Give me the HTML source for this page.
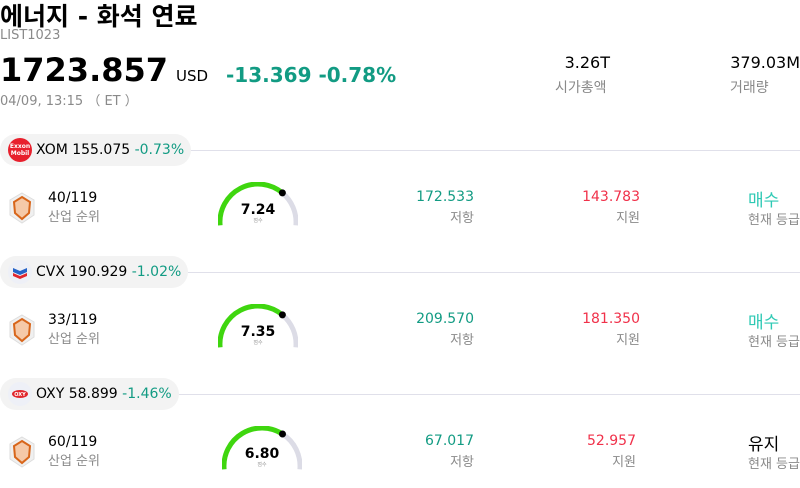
<!DOCTYPE html>
<html><head><meta charset="utf-8"><style>
*{margin:0;padding:0;box-sizing:border-box}
body{width:800px;height:488px;background:#fff;font-family:"DejaVu Sans","Liberation Sans","Noto Sans CJK KR",sans-serif;position:relative;overflow:hidden;color:#000}
.a{position:absolute;white-space:nowrap}
.g{color:#8a8a8a}
.r{text-align:right}
.pill{position:absolute;left:0;height:32px;border-radius:16px;background:#f3f3f3;font-size:14px;line-height:32px;padding-left:36px;padding-right:7px;white-space:nowrap}
.ln{position:absolute;height:1px;background:#e0e0ea;right:0}
.teal{color:#129b83}
.red{color:#f0314a}
</style></head><body>
<div class="a" style="left:0;top:-3px;font-size:25px;font-weight:bold">에너지 - 화석 연료</div>
<div class="a g" style="left:0;top:28px;font-size:13px">LIST1023</div>
<div class="a" style="left:0;top:51px;font-size:32px;font-weight:bold">1723.857</div>
<div class="a" style="left:176px;top:67px;font-size:15px">USD</div>
<div class="a teal" style="left:226px;top:63px;font-size:20px;font-weight:bold">-13.369 -0.78%</div>
<div class="a g" style="left:0;top:90px;font-size:13px">04/09, 13:15 （ ET ）</div>
<div class="a r" style="right:190px;top:53px;font-size:16px">3.26T</div>
<div class="a g" style="left:555px;top:77px;font-size:14px">시가총액</div>
<div class="a r" style="right:0;top:53px;font-size:16px">379.03M</div>
<div class="a g" style="left:730px;top:77px;font-size:14px">거래량</div>

<div class="ln" style="left:190px;top:150px"></div>
<div class="pill" style="top:134px">XOM 155.075 <span class="teal">-0.73%</span></div>
<div class="a" style="left:8px;top:138px;width:24px;height:24px;border-radius:50%;background:#e8202d;color:#fff;font-size:6px;font-weight:bold;line-height:7px;text-align:center;padding-top:5px">Exxon<br>Mobil</div>

<div class="ln" style="left:188px;top:272px"></div>
<div class="pill" style="top:256px">CVX 190.929 <span class="teal">-1.02%</span></div>
<svg class="a" style="left:8px;top:260px" width="24" height="24"><circle cx="12" cy="12" r="12" fill="#eef0f7"/><path d="M5 8 L12 11 L19 8 L19 12 L12 15 L5 12Z" fill="#2563c8"/><path d="M5 13 L12 16 L19 13 L19 16 L12 19 L5 16Z" fill="#e1262d"/></svg>

<div class="ln" style="left:178px;top:394px"></div>
<div class="pill" style="top:378px">OXY 58.899 <span class="teal">-1.46%</span></div>
<svg class="a" style="left:8px;top:382px" width="24" height="24"><circle cx="12" cy="12" r="12" fill="#eef0f7"/><ellipse cx="12" cy="12" rx="8" ry="4" fill="#e1262d"/><text x="12" y="14" font-size="5" fill="#fff" text-anchor="middle" font-weight="bold">OXY</text></svg>

<svg class="a" style="left:8px;top:192px" width="28" height="32"><polygon points="14,1 26,8 26,23 14,31 2,23 2,8" fill="#f0f0f0" stroke="#ddd"/><polygon points="14,5 22,10 21,21 14,27 7,21 6,10" fill="#f5c9a8" stroke="#d8661b" stroke-width="2"/></svg>
<div class="a" style="left:48px;top:190px;font-size:14px">40/119</div>
<div class="a g" style="left:48px;top:206px;font-size:13px">산업 순위</div>
<svg class="a" style="left:218px;top:182px" width="80" height="50"><path d="M2.1,43.3 A38,38 0 0 1 64.4,10.9" fill="none" stroke="#3fd60f" stroke-width="5"/><path d="M64.4,10.9 A38,38 0 0 1 77.9,43.3" fill="none" stroke="#dcdce6" stroke-width="5"/><circle cx="64.4" cy="10.9" r="3.5" fill="#000"/><text x="40" y="32" font-size="14" font-weight="bold" text-anchor="middle" font-family="DejaVu Sans">7.24</text><text x="40" y="40" font-size="5" fill="#999" text-anchor="middle">점수</text></svg>
<div class="a r teal" style="right:326px;top:189px;font-size:14px">172.533</div>
<div class="a r g" style="right:326px;top:207px;font-size:13px">저항</div>
<div class="a r red" style="right:160px;top:189px;font-size:14px">143.783</div>
<div class="a r g" style="right:160px;top:207px;font-size:13px">지원</div>
<div class="a" style="left:748px;top:186px;font-size:17px;color:#2ec9b4">매수</div>
<div class="a g" style="left:748px;top:209px;font-size:13px">현재 등급</div>

<svg class="a" style="left:8px;top:314px" width="28" height="32"><polygon points="14,1 26,8 26,23 14,31 2,23 2,8" fill="#f0f0f0" stroke="#ddd"/><polygon points="14,5 22,10 21,21 14,27 7,21 6,10" fill="#f5c9a8" stroke="#d8661b" stroke-width="2"/></svg>
<div class="a" style="left:48px;top:312px;font-size:14px">33/119</div>
<div class="a g" style="left:48px;top:328px;font-size:13px">산업 순위</div>
<svg class="a" style="left:218px;top:304px" width="80" height="50"><path d="M2.1,43.3 A38,38 0 0 1 64.4,10.9" fill="none" stroke="#3fd60f" stroke-width="5"/><path d="M64.4,10.9 A38,38 0 0 1 77.9,43.3" fill="none" stroke="#dcdce6" stroke-width="5"/><circle cx="64.4" cy="10.9" r="3.5" fill="#000"/><text x="40" y="32" font-size="14" font-weight="bold" text-anchor="middle" font-family="DejaVu Sans">7.35</text><text x="40" y="40" font-size="5" fill="#999" text-anchor="middle">점수</text></svg>
<div class="a r teal" style="right:326px;top:311px;font-size:14px">209.570</div>
<div class="a r g" style="right:326px;top:329px;font-size:13px">저항</div>
<div class="a r red" style="right:160px;top:311px;font-size:14px">181.350</div>
<div class="a r g" style="right:160px;top:329px;font-size:13px">지원</div>
<div class="a" style="left:748px;top:308px;font-size:17px;color:#2ec9b4">매수</div>
<div class="a g" style="left:748px;top:331px;font-size:13px">현재 등급</div>

<svg class="a" style="left:8px;top:436px" width="28" height="32"><polygon points="14,1 26,8 26,23 14,31 2,23 2,8" fill="#f0f0f0" stroke="#ddd"/><polygon points="14,5 22,10 21,21 14,27 7,21 6,10" fill="#f5c9a8" stroke="#d8661b" stroke-width="2"/></svg>
<div class="a" style="left:48px;top:434px;font-size:14px">60/119</div>
<div class="a g" style="left:48px;top:450px;font-size:13px">산업 순위</div>
<svg class="a" style="left:222px;top:426px" width="80" height="50"><path d="M2.1,43.3 A38,38 0 0 1 60.5,8.0" fill="none" stroke="#3fd60f" stroke-width="5"/><path d="M60.5,8.0 A38,38 0 0 1 77.9,43.3" fill="none" stroke="#dcdce6" stroke-width="5"/><circle cx="60.5" cy="8.0" r="3.5" fill="#000"/><text x="40" y="32" font-size="14" font-weight="bold" text-anchor="middle" font-family="DejaVu Sans">6.80</text><text x="40" y="40" font-size="5" fill="#999" text-anchor="middle">점수</text></svg>
<div class="a r teal" style="right:326px;top:433px;font-size:14px">67.017</div>
<div class="a r g" style="right:326px;top:451px;font-size:13px">저항</div>
<div class="a r red" style="right:164px;top:433px;font-size:14px">52.957</div>
<div class="a r g" style="right:164px;top:451px;font-size:13px">지원</div>
<div class="a" style="left:748px;top:430px;font-size:17px">유지</div>
<div class="a g" style="left:748px;top:453px;font-size:13px">현재 등급</div>
</body></html>
